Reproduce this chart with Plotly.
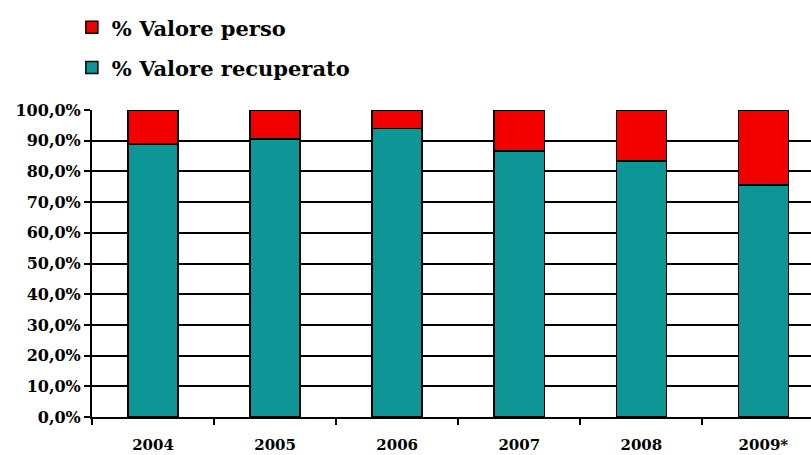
import plotly.graph_objects as go

years = ["2004", "2005", "2006", "2007", "2008", "2009*"]
recuperato = [88.9, 90.6, 94.0, 86.7, 83.4, 75.6]
perso = [round(100 - v, 1) for v in recuperato]
y_ticks = [0, 10, 20, 30, 40, 50, 60, 70, 80, 90, 100]
y_labels = ["0,0%", "10,0%", "20,0%", "30,0%", "40,0%", "50,0%", "60,0%", "70,0%", "80,0%", "90,0%", "100,0%"]

FONT = "DejaVu Serif"
teal = "#0E9595"
red = "#F20000"

fig = go.Figure()
fig.add_trace(go.Bar(x=years, y=recuperato, name="% Valore recuperato",
                     marker=dict(color=teal, line=dict(color="black", width=1.5)),
                     width=0.41, legendgroup="b", legendrank=2))
fig.add_trace(go.Bar(x=years, y=perso, name="% Valore perso",
                     marker=dict(color=red, line=dict(color="black", width=1.5)),
                     width=0.41, legendgroup="a", legendrank=1))

fig.update_layout(
    barmode="stack",
    width=811, height=455,
    margin=dict(l=92, r=0, t=110, b=38, autoexpand=False),
    plot_bgcolor="white", paper_bgcolor="white",
    font=dict(family=FONT, color="black", weight="bold"),
    legend=dict(x=-0.028, y=1.335, yanchor="top", xanchor="left",
                font=dict(family=FONT, size=21, color="black", weight="bold"),
                traceorder="grouped", tracegroupgap=10,
                bgcolor="rgba(0,0,0,0)"),
    showlegend=True,
)
fig.update_xaxes(
    range=[-0.5, 5.39], showgrid=False, showline=True, linecolor="black", linewidth=2,
    ticks="outside", tickson="boundaries", ticklen=6, tickcolor="black", tickwidth=1.5,
    tickfont=dict(family=FONT, size=15, color="black", weight="bold"),
    ticklabelstandoff=13,
)
fig.update_yaxes(
    range=[0, 100], tickvals=y_ticks, ticktext=y_labels,
    showgrid=True, gridcolor="black", gridwidth=2,
    showline=True, linecolor="black", linewidth=2,
    ticks="outside", ticklen=6, tickcolor="black", tickwidth=1.5,
    tickfont=dict(family=FONT, size=16, color="black", weight="bold"),
    zeroline=False,
)
fig.write_html("out.html")
